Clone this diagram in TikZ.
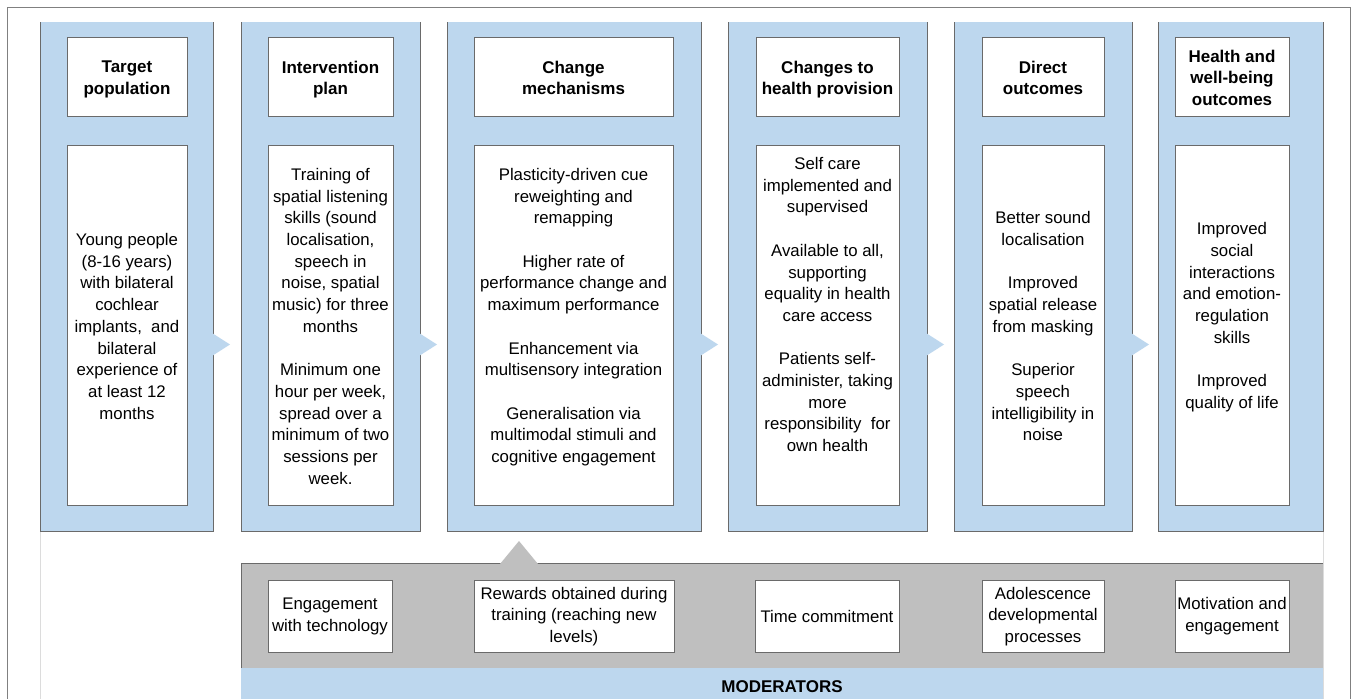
\documentclass[tikz,border=0pt]{standalone}
\usepackage{fontspec}
\setmainfont{Liberation Sans}
\definecolor{bluef}{HTML}{BDD7EE}
\definecolor{grayf}{HTML}{BFBFBF}
\definecolor{edgec}{HTML}{6A6A6A}
\definecolor{framec}{HTML}{808080}
\definecolor{lightc}{HTML}{DCDCDC}
\begin{document}
\begin{tikzpicture}[x=1pt,y=-1pt,
  box/.style={draw=edgec, line width=0.8pt, fill=white, inner sep=0pt},
  txt/.style={inner sep=0pt, align=center, text=black, font=\fontsize{16.8}{21.7}\selectfont,
    execute at begin node=\strut, execute at end node=\strut},
  bodytxt/.style={txt, yshift=-4.5pt},
  modtxt/.style={txt, yshift=-2pt},
  hdrtxt/.style={inner sep=0pt, align=center, text=black, font=\bfseries\fontsize{17}{21.5}\selectfont,
    execute at begin node=\strut, execute at end node=\strut, yshift=-4.5pt},
  labtxt/.style={inner sep=0pt, text=black, font=\bfseries\fontsize{17}{21.5}\selectfont},
  colfill/.style={fill=bluef},
  coledge/.style={draw=edgec, line width=0.8pt},
  arrowtri/.style={fill=bluef}
]
\useasboundingbox (0,0) rectangle (1358,699);
\fill[white] (0,0) rectangle (1358,699);
% outer frame
\draw[framec, line width=1pt] (7,700) -- (7,7) -- (1350,7) -- (1350,700);
% inner light frame
\draw[lightc, line width=0.6pt] (40,22) -- (40,700);
\draw[lightc, line width=0.6pt] (1323,22) -- (1323,700);

% columns
\foreach \l/\r in {40/213, 241/420, 447/701, 728/927, 954/1132, 1158/1323}{
  \fill[colfill] (\l,22) rectangle (\r,531);
  \draw[coledge] (\l,22) -- (\l,531) -- (\r,531) -- (\r,22);
}
% arrows between columns
\foreach \r in {213, 420, 701, 927, 1132}{
  \fill[arrowtri] (\r-1,333) -- (\r+17,344.5) -- (\r-1,356) -- cycle;
}

% moderator bars
\fill[grayf] (241,563) rectangle (1323,668);
\draw[coledge] (1323,563) -- (241,563) -- (241,700);
\draw[coledge] (241,668) -- (1323,668);
\draw[lightc, line width=0.6pt] (1323,563) -- (1323,668);
\fill[bluef] (241.4,668.4) rectangle (1323,700);
\fill[grayf] (500,564) -- (519,541) -- (538,564) -- cycle;
\node[labtxt] (modlabel) at (782,687) {MODERATORS};

% header and body boxes
\foreach \n/\cx/\w in {1/127/120, 2/330.5/125, 3/573.5/199, 4/827.5/143, 5/1043/122, 6/1232/114}{
  \node[box, minimum width=\w pt, minimum height=79pt] (h\n) at (\cx,76.5) {};
  \node[box, minimum width=\w pt, minimum height=360pt] (b\n) at (\cx,325) {};
}
\node[hdrtxt] (ht1) at (h1.center) {Target\\population};
\node[hdrtxt] (ht2) at (h2.center) {Intervention\\plan};
\node[hdrtxt] (ht3) at (h3.center) {Change\\mechanisms};
\node[hdrtxt] (ht4) at (h4.center) {Changes to\\health provision};
\node[hdrtxt] (ht5) at (h5.center) {Direct\\outcomes};
\node[hdrtxt] (ht6) at (h6.center) {Health and\\well-being\\outcomes};

\node[bodytxt] (bt1) at (b1.center) {Young people\\(8-16 years)\\with bilateral\\cochlear\\implants,\ \ and\\bilateral\\experience of\\at least 12\\months};
\node[bodytxt] (bt2) at (b2.center) {Training of\\spatial listening\\skills (sound\\localisation,\\speech in\\noise, spatial\\music) for three\\months\\[21.7pt]Minimum one\\hour per week,\\spread over a\\minimum of two\\sessions per\\week.};
\node[bodytxt] (bt3) at ([yshift=10.85pt]b3.center) {Plasticity-driven cue\\reweighting and\\remapping\\[21.7pt]Higher rate of\\performance change and\\maximum performance\\[21.7pt]Enhancement via\\multisensory integration\\[21.7pt]Generalisation via\\multimodal stimuli and\\cognitive engagement};
\node[bodytxt] (bt4) at ([yshift=21.7pt]b4.center) {Self care\\implemented and\\supervised\\[21.7pt]Available to all,\\supporting\\equality in health\\care access\\[21.7pt]Patients self-\\administer, taking\\more\\responsibility\ \ for\\own health};
\node[bodytxt] (bt5) at (b5.center) {Better sound\\localisation\\[21.7pt]Improved\\spatial release\\from masking\\[21.7pt]Superior\\speech\\intelligibility in\\noise};
\node[bodytxt] (bt6) at ([yshift=10.85pt]b6.center) {Improved\\social\\interactions\\and emotion-\\regulation\\skills\\[21.7pt]Improved\\quality of life};

% moderator boxes
\foreach \n/\cx/\w in {1/330/124, 2/574/200, 3/827/144, 4/1043/122, 5/1232/114}{
  \node[box, minimum width=\w pt, minimum height=72pt] (m\n) at (\cx,616) {};
}
\node[modtxt] (mt1) at (m1.center) {Engagement\\with technology};
\node[modtxt] (mt2) at (m2.center) {Rewards obtained during\\training (reaching new\\levels)};
\node[modtxt] (mt3) at (m3.center) {Time commitment};
\node[modtxt] (mt4) at (m4.center) {Adolescence\\developmental\\processes};
\node[modtxt] (mt5) at (m5.center) {Motivation and\\engagement};
\end{tikzpicture}
\end{document}
